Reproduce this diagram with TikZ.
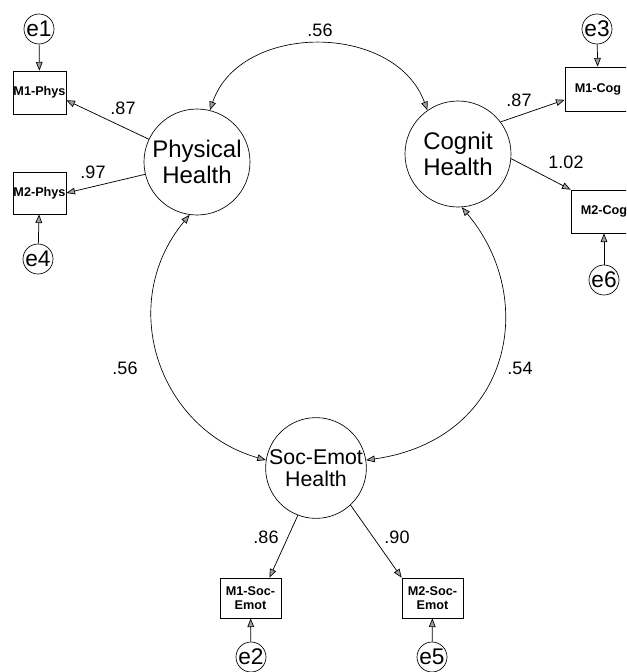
\documentclass[tikz,border=0pt]{standalone}
\usepackage{fontspec}
\setmainfont{Liberation Sans}
\usetikzlibrary{arrows.meta}
\begin{document}
\begin{tikzpicture}[x=0.75pt,y=-0.75pt,
  every node/.style={inner sep=0pt},
  tip/.tip={Triangle[length=6.5pt,width=5pt,fill=gray!75,line width=0.5pt]},
  latent/.style={circle,draw,line width=0.5pt,align=center,minimum size=79.5pt},
  obs/.style={rectangle,draw,line width=0.5pt,align=center,
    font=\bfseries\fontsize{9.5}{10}\selectfont},
  err/.style={circle,draw,line width=0.5pt,minimum size=22.5pt,
    font=\fontsize{17}{17}\selectfont},
  coef/.style={font=\fontsize{13.5}{14}\selectfont},
  load/.style={draw,line width=0.55pt,-tip},
  cov/.style={draw,line width=0.5pt,tip-tip}]
\useasboundingbox (0,0) rectangle (626,672);
\clip (0,0) rectangle (626,672);

% latent factors
\node[latent,font=\fontsize{18}{19}\selectfont] (PH) at (197,162) {Physical\\Health};
\node[latent,font=\fontsize{18}{19}\selectfont] (CH) at (458,154) {Cognit\\Health};
\node[latent,minimum size=75pt,font=\fontsize{16}{16.5}\selectfont] (SE) at (316,468) {Soc-Emot\\Health};

% observed measures
\node[obs,minimum width=39.75pt,minimum height=32.25pt] (M1P) at (39.5,92.5) {M1-Phys};
\node[obs,minimum width=39.75pt,minimum height=31.5pt] (M2P) at (39.5,193) {M2-Phys};
\node[obs,minimum width=49.5pt,minimum height=33pt] (M1C) at (598,89) {M1-Cog};
\node[obs,minimum width=49.5pt,minimum height=32.25pt] (M2C) at (604,211.5) {M2-Cog};
\node[obs,minimum width=45.75pt,minimum height=30pt] (M1S) at (250.5,598) {M1-Soc-\\Emot};
\node[obs,minimum width=45.75pt,minimum height=30pt] (M2S) at (432.5,598) {M2-Soc-\\Emot};

% error terms
\node[err] (e1) at (39,29) {e1};
\node[err] (e4) at (38,259) {e4};
\node[err] (e3) at (597,29) {e3};
\node[err] (e6) at (604,280) {e6};
\node[err] (e2) at (251,657) {e2};
\node[err] (e5) at (432,657) {e5};

% error paths
\draw[load] (e1) -- (M1P);
\draw[load] (e4) -- (M2P);
\draw[load] (e3) -- (M1C);
\draw[load] (e6) -- (M2C);
\draw[load] (e2) -- (M1S);
\draw[load] (e5) -- (M2S);

% factor loadings
\draw[load] (PH) -- (M1P.-16);
\draw[load] (PH) -- (M2P.east);
\draw[load] (CH.37) -- (M1C.198);
\draw[load] (CH.-5) -- (M2C.north west);
\draw[load] (SE.249) -- (M1S.47);
\draw[load] (SE.-47) -- (M2S.north west);

% factor covariances
\draw[cov] (PH.76) .. controls (240,22) and (395,22) .. (CH.125);
\draw[cov] (PH.262) .. controls (115,305) and (160,430) .. (SE.171);
\draw[cov] (CH.-86) .. controls (540,300) and (510,440) .. (SE.9);

% coefficients
\node[coef] (c1) at (320,30) {.56};
\node[coef] (c2) at (123,108) {.87};
\node[coef] (c3) at (93,172) {.97};
\node[coef] (c4) at (519,100) {.87};
\node[coef] (c5) at (566,162) {1.02};
\node[coef] (c6) at (125,368) {.56};
\node[coef] (c7) at (520,368) {.54};
\node[coef] (c8) at (266,537) {.86};
\node[coef] (c9) at (397,537) {.90};
\end{tikzpicture}
\end{document}
